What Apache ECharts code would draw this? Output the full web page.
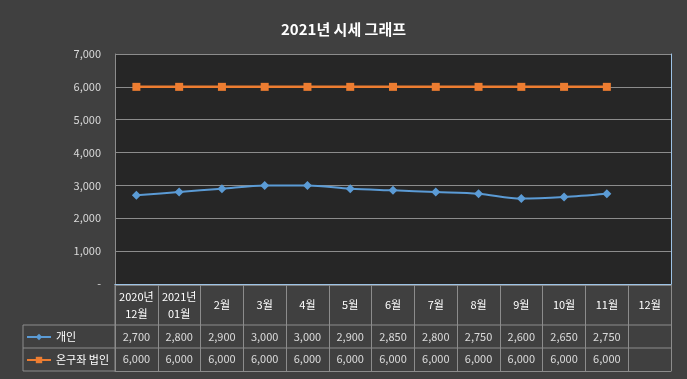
<!DOCTYPE html>
<html><head><meta charset="utf-8">
<script src="https://cdn.jsdelivr.net/npm/echarts@6/dist/echarts.min.js"></script>
<style>html,body{margin:0;padding:0;background:#404040;}#c{width:687px;height:379px;}</style>
</head><body><div id="c"></div>
<script>
var title = '2021년 시세 그래프';
var categories = ['2020년\n12월', '2021년\n01월', '2월', '3월', '4월', '5월', '6월', '7월', '8월', '9월', '10월', '11월', '12월'];
var seriesNames = ['개인', '온구좌 법인'];
var personal = [2700, 2800, 2900, 3000, 3000, 2900, 2850, 2800, 2750, 2600, 2650, 2750, null];
var corporate = [6000, 6000, 6000, 6000, 6000, 6000, 6000, 6000, 6000, 6000, 6000, 6000, null];
var yTicks = {min: 0, max: 7000, interval: 1000};

var FONT = "'Noto Sans CJK KR', 'Noto Sans', sans-serif";
var BLUE = '#5b9bd5', ORANGE = '#ed7d31', GRIDC = '#8c8c8c', EDGE = '#9dc3e6';
function fmt(v){ return v === 0 ? '-' : v.toLocaleString('en-US'); }
function rowData(arr, yPos){
  var out = [];
  arr.forEach(function(v, i){ if (v != null) out.push([i, yPos, v]); });
  return out;
}
var chart = echarts.init(document.getElementById('c'), null, {renderer: 'canvas'});
var L = 115, R = 16, TT = 285, TH = 86, LL = 23;
chart.setOption({
  animation: false,
  backgroundColor: '#404040',
  textStyle: {fontFamily: FONT},
  title: {text: title, left: 'center', top: 17, textStyle: {color: '#ffffff', fontSize: 15, fontWeight: 'bold', fontFamily: FONT}},
  legend: {
    orient: 'vertical', left: 26, top: 330, itemWidth: 24, itemHeight: 8, itemGap: 9, padding: 0,
    textStyle: {color: '#ffffff', fontSize: 11, lineHeight: 14, fontFamily: FONT},
    data: seriesNames
  },
  grid: [
    {left: L, right: R, top: 54, height: 230, show: true, backgroundColor: '#262626', borderWidth: 0},
    {left: L, right: R, top: TT, height: TH}
  ],
  xAxis: [
    {type: 'category', gridIndex: 0, data: categories, boundaryGap: true,
     axisLine: {show: true, lineStyle: {color: '#bfbfbf'}}, axisTick: {show: false},
     axisLabel: {color: '#ffffff', fontSize: 11, lineHeight: 17, verticalAlign: 'middle', margin: 21, interval: 0, fontFamily: FONT},
     splitLine: {show: false}},
    {type: 'category', gridIndex: 0, data: categories, position: 'top', z: 5,
     axisLine: {show: true, lineStyle: {color: EDGE}}, axisTick: {show: false}, axisLabel: {show: false}},
    {type: 'category', gridIndex: 1, data: categories, boundaryGap: true,
     axisLine: {show: true, lineStyle: {color: GRIDC}}, axisTick: {show: false}, axisLabel: {show: false},
     splitLine: {show: true, interval: 0, lineStyle: {color: GRIDC}}}
  ],
  yAxis: [
    {type: 'value', gridIndex: 0, min: yTicks.min, max: yTicks.max, interval: yTicks.interval,
     axisLine: {show: true, lineStyle: {color: GRIDC}}, axisTick: {show: false},
     axisLabel: {color: '#d9d9d9', fontSize: 11, margin: 14, formatter: fmt, fontFamily: FONT},
     splitLine: {show: true, lineStyle: {color: GRIDC}}},
    {type: 'value', gridIndex: 0, position: 'right', min: yTicks.min, max: yTicks.max, z: 5,
     axisLine: {show: true, lineStyle: {color: EDGE}}, axisTick: {show: false}, axisLabel: {show: false}, splitLine: {show: false}},
    {type: 'value', gridIndex: 1, min: 0, max: TH, show: false}
  ],
  series: [
    {name: seriesNames[0], type: 'line', xAxisIndex: 0, yAxisIndex: 0, data: personal, smooth: 0.3,
     symbol: 'diamond', symbolSize: 9, lineStyle: {color: BLUE, width: 2}, itemStyle: {color: BLUE}, z: 3},
    {name: seriesNames[1], type: 'line', xAxisIndex: 0, yAxisIndex: 0, data: corporate,
     symbol: 'rect', symbolSize: 8, lineStyle: {color: ORANGE, width: 2.5}, itemStyle: {color: ORANGE}, z: 4},
    {type: 'scatter', xAxisIndex: 2, yAxisIndex: 2, data: rowData(personal, 34.5), symbolSize: 1,
     itemStyle: {color: 'rgba(0,0,0,0)'}, silent: true,
     label: {show: true, position: 'inside', color: '#ffffff', fontSize: 11, fontFamily: FONT, formatter: function(p){ return fmt(p.value[2]); }}},
    {type: 'scatter', xAxisIndex: 2, yAxisIndex: 2, data: rowData(corporate, 11.7), symbolSize: 1,
     itemStyle: {color: 'rgba(0,0,0,0)'}, silent: true,
     label: {show: true, position: 'inside', color: '#ffffff', fontSize: 11, fontFamily: FONT, formatter: function(p){ return fmt(p.value[2]); }}}
  ],
  graphic: [
    {type: 'line', shape: {x1: L, y1: TT, x2: 687 - R, y2: TT}, style: {stroke: '#bfbfbf', lineWidth: 1}},
    {type: 'line', shape: {x1: LL, y1: 325, x2: 687 - R, y2: 325}, style: {stroke: GRIDC, lineWidth: 1}},
    {type: 'line', shape: {x1: LL, y1: 348, x2: 687 - R, y2: 348}, style: {stroke: GRIDC, lineWidth: 1}},
    {type: 'line', shape: {x1: LL, y1: TT + TH, x2: L, y2: TT + TH}, style: {stroke: GRIDC, lineWidth: 1}},
    {type: 'line', shape: {x1: LL, y1: 325, x2: LL, y2: TT + TH}, style: {stroke: GRIDC, lineWidth: 1}},
    {type: 'line', shape: {x1: L, y1: TT, x2: L, y2: TT + TH}, style: {stroke: GRIDC, lineWidth: 1}}
  ]
});
</script>
</body></html>
